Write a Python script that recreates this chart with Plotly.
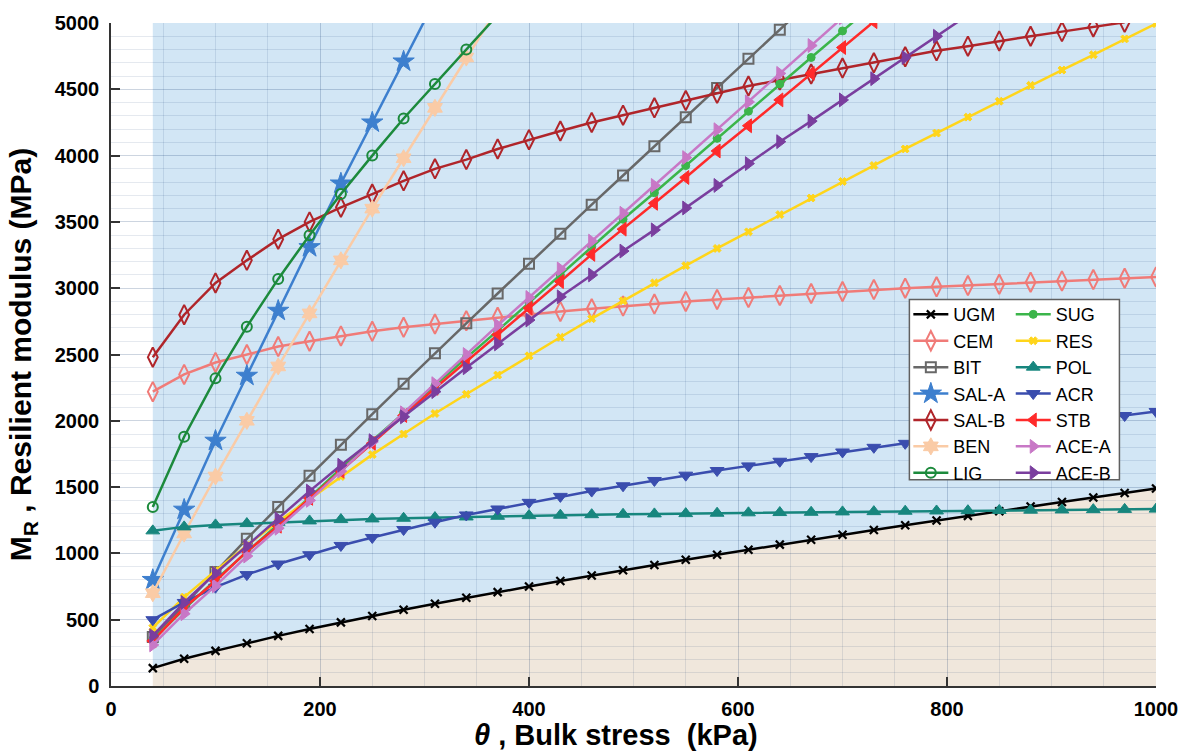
import plotly.graph_objects as go

# ---------------- data ----------------
theta = [40, 70, 100, 130, 160, 190, 220, 250, 280, 310, 340, 370, 400, 430, 460,
         490, 520, 550, 580, 610, 640, 670, 700, 730, 760, 790, 820, 850, 880, 910,
         940, 970, 1000]

ugm = [135, 205, 265, 322, 378, 430, 480, 528, 575, 620, 665, 708, 750, 792, 833,
       873, 913, 952, 990, 1028, 1066, 1103, 1140, 1176, 1212, 1248, 1283, 1318, 1353,
       1387, 1421, 1455, 1490]
cem = [2220, 2350, 2440, 2500, 2560, 2600, 2640, 2675, 2705, 2730, 2755, 2780, 2805,
       2825, 2845, 2865, 2880, 2900, 2915, 2930, 2945, 2960, 2975, 2990, 3000, 3010,
       3020, 3030, 3045, 3055, 3065, 3075, 3085]
bit = [370, 610, 860, 1110, 1350, 1585, 1820, 2050, 2280, 2510, 2735, 2960, 3185, 3410,
       3630, 3850, 4070, 4290, 4510, 4730, 4950, 5170]
sal_a = [800, 1330, 1850, 2340, 2830, 3310, 3790, 4250, 4710, 5170]
sal_b = [2480, 2800, 3040, 3210, 3370, 3500, 3610, 3710, 3810, 3900, 3970, 4050, 4120,
         4185, 4250, 4305, 4360, 4415, 4470, 4525, 4570, 4615, 4660, 4700, 4745, 4790,
         4825, 4865, 4900, 4935, 4970, 5005]
ben = [700, 1150, 1580, 2000, 2410, 2810, 3210, 3600, 3980, 4360, 4740, 5110]
lig = [1350, 1880, 2320, 2710, 3070, 3400, 3710, 4000, 4280, 4540, 4800, 5060]
sug = [350, 580, 800, 1010, 1220, 1420, 1640, 1850, 2060, 2265, 2475, 2680, 2890, 3100,
       3315, 3520, 3720, 3925, 4130, 4335, 4540, 4740, 4940, 5140]
res = [440, 670, 870, 1060, 1240, 1410, 1580, 1745, 1900, 2055, 2200, 2345, 2490, 2630,
       2770, 2905, 3040, 3170, 3300, 3425, 3555, 3680, 3805, 3925, 4050, 4170, 4290,
       4410, 4530, 4645, 4760, 4880, 4995]
pol = [1170, 1200, 1215, 1225, 1235, 1245, 1255, 1260, 1265, 1270, 1275, 1280, 1285,
       1288, 1292, 1295, 1298, 1300, 1303, 1306, 1308, 1310, 1313, 1315, 1318, 1320,
       1322, 1324, 1326, 1328, 1330, 1332, 1334]
acr = [500, 630, 745, 840, 920, 990, 1060, 1120, 1180, 1235, 1290, 1335, 1385, 1430,
       1470, 1510, 1550, 1590, 1625, 1660, 1695, 1730, 1765, 1800, 1830, 1860, 1890,
       1920, 1950, 1980, 2010, 2040, 2070]
stb = [340, 590, 790, 1015, 1205, 1415, 1620, 1830, 2040, 2245, 2445, 2650, 2850, 3050,
       3255, 3445, 3640, 3835, 4035, 4225, 4420, 4620, 4815, 5010]
ace_a = [310, 545, 755, 980, 1190, 1400, 1620, 1840, 2060, 2280, 2500, 2720, 2930, 3145,
         3355, 3565, 3775, 3985, 4195, 4405, 4620, 4830, 5040]
ace_b = [380, 630, 850, 1055, 1260, 1470, 1665, 1850, 2030, 2220, 2400, 2580, 2760,
         2935, 3100, 3280, 3440, 3605, 3775, 3940, 4105, 4260, 4420, 4580, 4740, 4900,
         5060]

x_ticks = [0, 200, 400, 600, 800, 1000]
y_ticks = [0, 500, 1000, 1500, 2000, 2500, 3000, 3500, 4000, 4500, 5000]
X_MAX = 1000
Y_MAX = 5000

# name, values, colour, symbol, size, marker line width, legend group
series = [
    ("UGM", ugm, "#000000", "x-thin-open", 8, 2.2, "legend"),
    ("CEM", cem, "#F07B78", "diamond-tall-open", 14, 2, "legend"),
    ("BIT", bit, "#686868", "square-open", 10, 2, "legend"),
    ("SAL-A", sal_a, "#3D7FCE", "star", 16, 1, "legend"),
    ("SAL-B", sal_b, "#B0252A", "diamond-tall-open", 14, 2, "legend"),
    ("BEN", ben, "#FACBA6", "hexagram", 13, 1, "legend"),
    ("LIG", lig, "#1C8A3C", "circle-open", 10, 2, "legend"),
    ("SUG", sug, "#3BB54A", "circle", 8, 1, "legend2"),
    ("RES", res, "#FFD51A", "x", 7, 1, "legend2"),
    ("POL", pol, "#17867E", "triangle-up", 12, 1, "legend2"),
    ("ACR", acr, "#3A4DAE", "triangle-down", 12, 1, "legend2"),
    ("STB", stb, "#FF2A2A", "triangle-left", 12, 1, "legend2"),
    ("ACE-A", ace_a, "#C878C6", "triangle-right", 12, 1, "legend2"),
    ("ACE-B", ace_b, "#7A3E9E", "triangle-right", 12, 1, "legend2"),
]

fig = go.Figure()

for name, vals, col, sym, size, lw, lg in series:
    fig.add_trace(go.Scatter(
        x=theta[:len(vals)], y=vals, name=name, mode="lines+markers",
        line=dict(color=col, width=2.5),
        marker=dict(symbol=sym, size=size, color=col,
                    line=dict(color=col, width=lw)),
        legend=lg, cliponaxis=True,
    ))

# shaded regions built from the UGM series (under / above the curve)
pts = [(t, v) for t, v in zip(theta, ugm)]
path_curve = " L".join(f"{t},{v}" for t, v in pts)
tan_path = f"M{theta[0]},0 L{path_curve} L{theta[-1]},0 Z"
blue_path = f"M{path_curve} L{theta[-1]},{Y_MAX} L{theta[0]},{Y_MAX} Z"

shapes = [
    dict(type="path", path=blue_path, xref="x", yref="y", layer="below",
         fillcolor="#D2E6F5", line=dict(width=0)),
    dict(type="path", path=tan_path, xref="x", yref="y", layer="below",
         fillcolor="#F0E7DC", line=dict(width=0)),
    # legend frame
    dict(type="rect", xref="paper", yref="paper", x0=0.764, x1=0.965, y0=0.311, y1=0.583,
         fillcolor="white", line=dict(color="#606060", width=1.5), layer="above"),
]

grid = "rgba(0,35,95,0.10)"
FAM = "Liberation Sans, Arial, sans-serif"
tickfont = dict(family=FAM, size=20, color="black", weight="bold")
xtitlefont = dict(family=FAM, size=29, color="black", weight="bold")
ytitlefont = dict(family=FAM, size=30, color="black", weight="bold")
legfont = dict(family=FAM, size=18, color="black")

fig.update_layout(
    width=1190, height=755,
    margin=dict(l=111, r=32, t=17, b=69),
    paper_bgcolor="white", plot_bgcolor="white",
    shapes=shapes,
    showlegend=True,
    legend=dict(x=0.763, y=0.588, xanchor="left", yanchor="top",
                bgcolor="rgba(0,0,0,0)", borderwidth=0, font=legfont,
                tracegroupgap=0, itemwidth=35),
    legend2=dict(x=0.861, y=0.588, xanchor="left", yanchor="top",
                 bgcolor="rgba(0,0,0,0)", borderwidth=0, font=legfont,
                 tracegroupgap=0, itemwidth=35),
    xaxis=dict(
        range=[0, X_MAX], tickvals=x_ticks, ticks="inside", ticklen=9, tickwidth=1.5,
        tickcolor="#333333", showline=True, linecolor="#333333", linewidth=1.5,
        showgrid=True, gridcolor=grid, gridwidth=1, zeroline=False,
        minor=dict(dtick=50, showgrid=True, gridcolor=grid, gridwidth=1),
        tickfont=tickfont, ticklabelstandoff=4,
    ),
    yaxis=dict(
        range=[0, Y_MAX], tickvals=y_ticks, ticks="inside", ticklen=9, tickwidth=1.5,
        tickcolor="#333333", showline=True, linecolor="#333333", linewidth=1.5,
        showgrid=True, gridcolor=grid, gridwidth=1, zeroline=False,
        minor=dict(dtick=100, showgrid=True, gridcolor=grid, gridwidth=1),
        tickfont=tickfont, ticklabelstandoff=6,
        title=dict(text="M<sub>R</sub> , Resilient modulus (MPa)", font=ytitlefont,
                   standoff=14),
    ),
    annotations=[
        dict(text="<i>θ</i> , Bulk stress  (kPa)", xref="paper", yref="paper",
             x=0.5, y=0, xanchor="center", yanchor="middle", xshift=-18, yshift=-49,
             showarrow=False, font=xtitlefont),
    ],
)

fig.write_html("out.html", config={"displayModeBar": False},
               post_script="document.body.style.margin='0px';")
